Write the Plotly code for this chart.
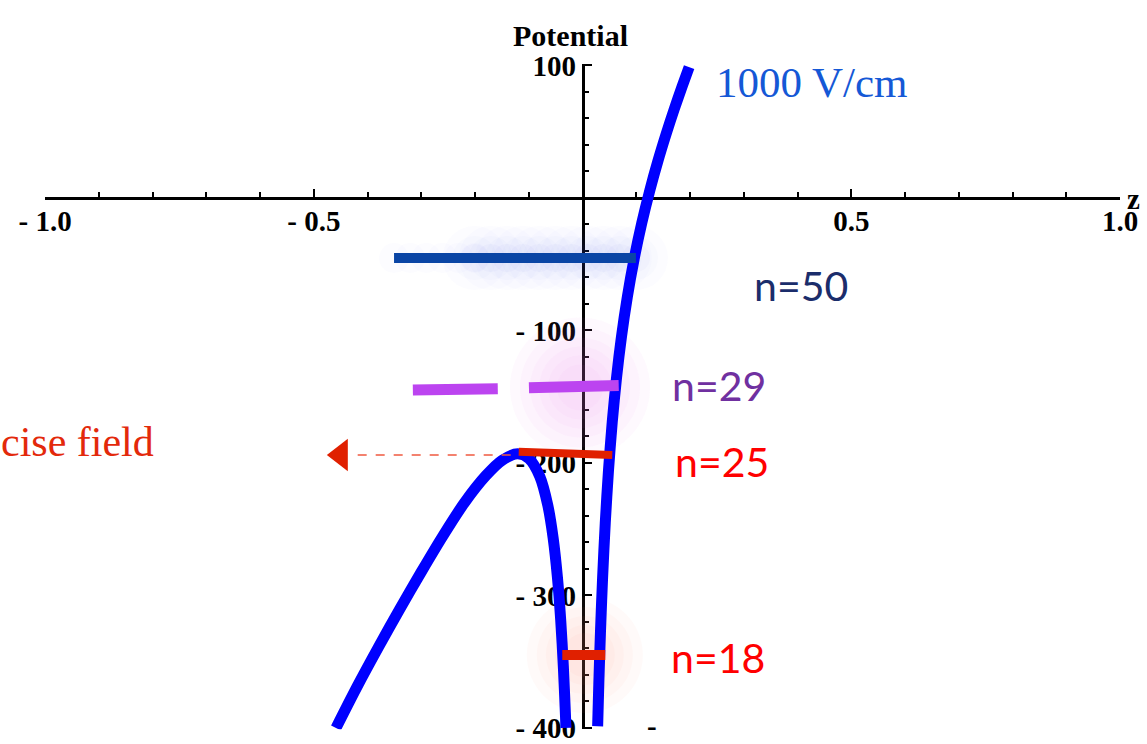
import plotly.graph_objects as go

W, H = 1147, 744

# ---- potential curve (z, potential) ----
left_z = [-0.459, -0.42, -0.38, -0.34, -0.30, -0.26, -0.22, -0.18, -0.15, -0.121,
          -0.10, -0.08, -0.065, -0.055, -0.047, -0.041, -0.036, -0.032, -0.0312]
left_v = [-400.0, -369.0, -339.0, -310.0, -282.0, -255.0, -230.0, -209.5, -198.0, -193.1,
          -196.7, -210.0, -231.8, -256.6, -286.4, -318.0, -353.7, -391.1, -399.9]
right_z = [0.0278, 0.030, 0.033, 0.037, 0.042, 0.048, 0.055, 0.063, 0.072, 0.083,
           0.096, 0.11, 0.125, 0.14, 0.155, 0.17, 0.185, 0.198]
right_v = [-398.7, -366.1, -328.2, -286.7, -245.1, -205.5, -168.9, -135.5, -105.1, -74.8,
           -45.4, -18.7, 6.0, 28.0, 48.0, 66.7, 84.2, 98.7]

# ---- energy levels ----
level_names = ["n=50", "n=29", "n=25", "n=18"]
level_z_from = [-0.351, -0.316, -0.119, -0.038]
level_z_to = [0.099, 0.067, 0.055, 0.042]
level_v_from = [-45.3, -145.0, -191.5, -344.9]
level_v_to = [-45.3, -141.5, -194.0, -344.9]
n29_z = [-0.316, -0.158, None, -0.100, 0.067]
n29_v = [-145.0, -144.0, None, -143.3, -141.5]

# arrow ("...cise field")
arrow_z = [-0.134, -0.43]
arrow_v = [-194.0, -194.0]
arrow_head_z = [-0.450]
arrow_head_v = [-194.0]

# axis ticks
x_tickvals = [-1.0, -0.5, 0.5, 1.0]
x_ticktext = ["- 1.0", "- 0.5", "0.5", "1.0"]
y_tickvals = [100, -100, -200, -300, -400]
y_ticktext = ["100", "- 100", "- 200", "- 300", "- 400"]


def px(x):
    return x / W


def py(y):
    return 1 - y / H


fig = go.Figure()

# soft glows (decoration around the levels)
glow50_z = [level_z_from[0] + k * (level_z_to[0] - level_z_from[0]) / 15 for k in range(16)]
for s, a in [(64, 0.018), (44, 0.022), (28, 0.03)]:
    fig.add_trace(go.Scatter(x=glow50_z[5:], y=[level_v_from[0]] * len(glow50_z[5:]), mode="markers",
                             marker=dict(size=s, color="rgba(80,110,230,%g)" % a, line=dict(width=0)),
                             hoverinfo="skip"))
fig.add_trace(go.Scatter(x=glow50_z[:6], y=[level_v_from[0]] * 6, mode="markers",
                         marker=dict(size=30, color="rgba(80,110,230,0.02)", line=dict(width=0)),
                         hoverinfo="skip"))
for s in [140, 120, 100, 82, 64, 46]:
    fig.add_trace(go.Scatter(x=[-0.005], y=[-143.0], mode="markers",
                             marker=dict(size=s, color="rgba(235,120,235,0.045)", line=dict(width=0)),
                             hoverinfo="skip"))
for s in [116, 96, 78, 60, 44]:
    fig.add_trace(go.Scatter(x=[0.004], y=[-345.0], mode="markers",
                             marker=dict(size=s, color="rgba(250,140,120,0.045)", line=dict(width=0)),
                             hoverinfo="skip"))

# potential curve
fig.add_trace(go.Scatter(x=left_z, y=left_v, mode="lines",
                         line=dict(color="#0000FF", width=11, shape="spline", smoothing=0.8)))
fig.add_trace(go.Scatter(x=right_z, y=right_v, mode="lines",
                         line=dict(color="#0000FF", width=11, shape="spline", smoothing=0.8)))

# levels
level_colors = ["#0A45A5", "#BC44F0", "#E02000", "#E02000"]
level_widths = [10, 11, 8, 10]
for i, name in enumerate(level_names):
    if name == "n=29":
        xs, ys = n29_z, n29_v
    else:
        xs = [level_z_from[i], level_z_to[i]]
        ys = [level_v_from[i], level_v_to[i]]
    fig.add_trace(go.Scatter(x=xs, y=ys, mode="lines",
                             line=dict(color=level_colors[i], width=level_widths[i]), name=name))

# arrow
fig.add_trace(go.Scatter(x=arrow_z, y=arrow_v, mode="lines",
                         line=dict(color="#F05A40", width=1.5, dash="dash"), hoverinfo="skip"))
fig.add_trace(go.Scatter(x=arrow_head_z, y=arrow_head_v, mode="markers",
                         marker=dict(symbol="triangle-left", size=28, color="#E02000", line=dict(width=0)),
                         hoverinfo="skip", cliponaxis=False))

tickfont = dict(family="Liberation Serif, Times New Roman, serif", size=29, color="black", weight="bold")

fig.update_layout(
    width=W, height=H,
    margin=dict(l=0, r=0, t=0, b=0, pad=0, autoexpand=False),
    paper_bgcolor="white", plot_bgcolor="rgba(0,0,0,0)",
    showlegend=False,
    xaxis=dict(
        domain=[px(45.2), px(1120.2)], range=[-1.0, 1.0],
        anchor="free", position=py(198), automargin=False,
        showline=True, linecolor="black", linewidth=3,
        ticks="inside", ticklen=8, tickwidth=2, tickcolor="black",
        tickmode="array", tickvals=x_tickvals, ticktext=x_ticktext, tickfont=tickfont,
        ticklabeloverflow="allow", ticklabelstandoff=-4,
        minor=dict(ticks="inside", ticklen=5, tickwidth=2, tickcolor="black", tickmode="linear", tick0=0, dtick=0.1),
        showgrid=False, zeroline=False, layer="below traces",
    ),
    yaxis=dict(
        domain=[py(729.3), py(63.5)], range=[-401, 101.5],
        anchor="free", position=px(582.7), automargin=False,
        showline=True, linecolor="black", linewidth=3,
        ticks="inside", ticklen=7, tickwidth=2, tickcolor="black",
        tickmode="array", tickvals=y_tickvals, ticktext=y_ticktext, tickfont=tickfont,
        ticklabeloverflow="allow",
        minor=dict(ticks="inside", ticklen=4, tickwidth=2, tickcolor="black", tickmode="linear", tick0=0, dtick=20),
        showgrid=False, zeroline=False, layer="below traces",
    ),
)

serif = "Liberation Serif, Times New Roman, serif"
sans = "Lato, Carlito, Open Sans, sans-serif"
ann = [
    dict(text="Potential", x=px(570), y=py(36), font=dict(family=serif, size=30, color="black", weight="bold"),
         xanchor="center", yanchor="middle"),
    dict(text="z", x=px(1133), y=py(199), font=dict(family=serif, size=29, color="black", weight="bold"),
         xanchor="center", yanchor="middle"),
    dict(text="-", x=px(652), y=py(726), font=dict(family=serif, size=29, color="black", weight="bold"),
         xanchor="center", yanchor="middle"),
    dict(text="1000 V/cm", x=px(714), y=py(82), font=dict(family=serif, size=43, color="#1558D6"),
         xanchor="left", yanchor="middle"),
    dict(text="cise field", x=px(-1), y=py(442), font=dict(family=serif, size=42, color="#E3290B"),
         xanchor="left", yanchor="middle"),
    dict(text=level_names[0], x=px(752), y=py(285), font=dict(family=sans, size=41, color="#1B2D6B"),
         xanchor="left", yanchor="middle"),
    dict(text=level_names[1], x=px(670), y=py(385), font=dict(family=sans, size=41, color="#7030A0"),
         xanchor="left", yanchor="middle"),
    dict(text=level_names[2], x=px(673), y=py(461), font=dict(family=sans, size=41, color="#FF0000"),
         xanchor="left", yanchor="middle"),
    dict(text=level_names[3], x=px(669), y=py(657), font=dict(family=sans, size=41, color="#FF0000"),
         xanchor="left", yanchor="middle"),
]
for a in ann:
    fig.add_annotation(xref="paper", yref="paper", showarrow=False, **a)

fig.write_html("out.html")
